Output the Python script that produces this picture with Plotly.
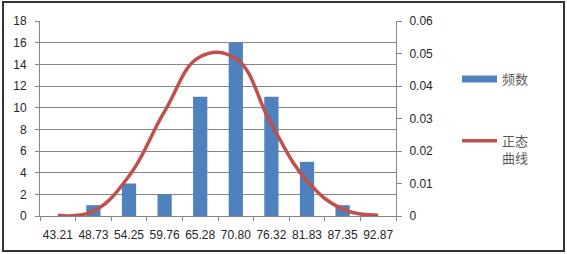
import plotly.graph_objects as go

categories = ["43.21", "48.73", "54.25", "59.76", "65.28", "70.80", "76.32", "81.83", "87.35", "92.87"]
freq = [0, 1, 3, 2, 11, 16, 11, 5, 1, 0]
normal_curve = [0.0002, 0.0015, 0.0123, 0.0322, 0.0490, 0.0484, 0.0282, 0.0108, 0.0021, 0.0002]

BLUE = "#4F81BD"
RED = "#C0504D"
GRID = "#868686"
TXT = "#262626"

fig = go.Figure()
fig.add_trace(go.Bar(
    x=categories, y=freq, name="频数", width=0.4,
    marker=dict(color=BLUE, line=dict(width=0)),
    showlegend=False, yaxis="y",
))
# legend swatch for the bars
fig.add_trace(go.Scatter(
    x=[categories[0]], y=[None], name="频数", mode="lines",
    line=dict(color=BLUE, width=7), yaxis="y", legendgroup="a",
))
fig.add_trace(go.Scatter(
    x=categories, y=normal_curve, name="正态<br>曲线", mode="lines",
    line=dict(color=RED, width=3.5, shape="spline", smoothing=1.2),
    yaxis="y2", legendgroup="b", showlegend=True,
))

L, R, T, B = 40, 171, 21, 38
W, H = 567, 254
pw, ph = W - L - R, H - T - B

def px_x(p):
    return (p - L) / pw

def px_y(p):
    return (H - B - p) / ph

fig.update_layout(
    template="none",
    width=W, height=H,
    margin=dict(l=L, r=R, t=T, b=B, pad=0),
    paper_bgcolor="white", plot_bgcolor="white",
    font=dict(family="Liberation Sans, Arial, Noto Sans CJK SC", size=12, color=TXT),
    bargap=0.6,
    xaxis=dict(
        type="category", tickson="boundaries", ticks="outside", ticklen=4,
        tickcolor=GRID, showline=True, linecolor=GRID, linewidth=1,
        showgrid=False, tickfont=dict(size=12, color=TXT), tickangle=0,
        range=[-0.5, 9.5], automargin=False, ticklabelstandoff=8,
    ),
    yaxis=dict(
        range=[0, 18], dtick=2, showgrid=True, gridcolor=GRID, gridwidth=1,
        showline=True, linecolor=GRID, ticks="outside", ticklen=4, tickcolor=GRID,
        zeroline=False, ticklabelstandoff=6, tickfont=dict(size=12, color=TXT),
        automargin=False,
    ),
    yaxis2=dict(
        range=[0, 0.06], dtick=0.01, overlaying="y", side="right",
        showgrid=False, showline=True, linecolor=GRID, ticks="outside", ticklen=5,
        tickcolor=GRID, zeroline=False, ticklabelstandoff=5,
        tickfont=dict(size=12, color=TXT), automargin=False,
    ),
    legend=dict(
        x=px_x(457), y=px_y(64), xanchor="left", yanchor="top",
        traceorder="grouped", tracegroupgap=42, valign="top",
        font=dict(family="Noto Sans CJK SC", size=13, color="#595959"),
        bgcolor="rgba(0,0,0,0)", itemwidth=35,
    ),
    shapes=[dict(
        type="rect", xref="paper", yref="paper",
        x0=px_x(3), x1=px_x(564), y0=px_y(251), y1=px_y(2),
        line=dict(color="#333333", width=2), fillcolor="rgba(0,0,0,0)", layer="below",
    )],
)

fig.write_html("out.html", config={"displayModeBar": False},
               post_script="document.body.style.margin='0px';")
